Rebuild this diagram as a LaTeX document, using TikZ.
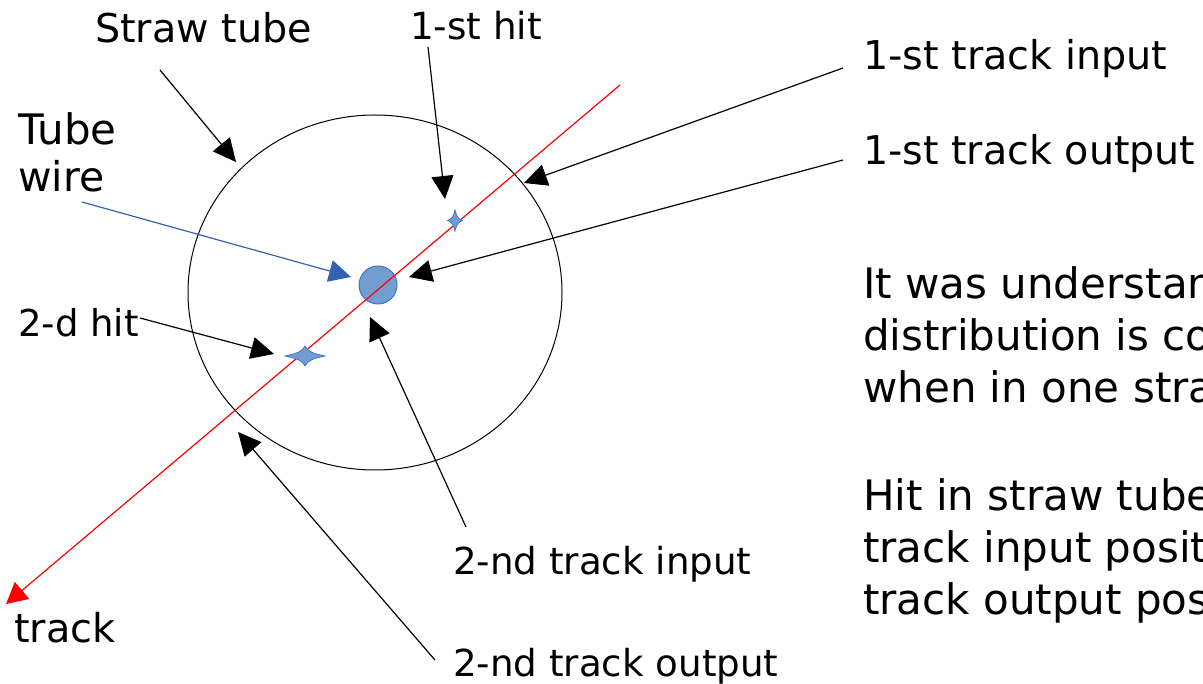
\documentclass[tikz,border=0pt]{standalone}
\usepackage{fontspec}
\setmainfont{DejaVu Sans}
\usetikzlibrary{arrows.meta}
\definecolor{wirefill}{RGB}{114,157,208}
\definecolor{wireedge}{RGB}{68,114,196}
\definecolor{bluearrow}{RGB}{52,98,178}
\tikzset{
  lbl/.style={anchor=base west,inner sep=0pt,align=left},
  bigtxt/.style={anchor=base west,inner sep=0pt,font=\fontsize{42}{52}\selectfont,align=left},
  ptr/.style={draw=black,line width=1.2pt,-{Triangle[length=23pt,width=22pt]}},
  blueptr/.style={line width=1.2pt,-{Triangle[length=22pt,width=22pt]},color=bluearrow},
  trackline/.style={draw=red,line width=1.2pt,-{Triangle[length=21pt,width=22pt]}},
  hitstar/.style={fill=wirefill,draw=wireedge,line width=0.8pt}
}
\begin{document}
\begin{tikzpicture}[x=1pt,y=-1pt]
\useasboundingbox (0,0) rectangle (1203,684);
\begin{scope}
\clip (0,0) rectangle (1203,684);
% straw tube
\draw[black,line width=1pt] (375,292.5) ellipse [x radius=187,y radius=177.5];
% wire
\node[circle,minimum size=38pt,inner sep=0pt,fill=wirefill,draw=wireedge,line width=1pt] (wire) at (378,285) {};
% track
\coordinate (trackstart) at (620,85);
\coordinate (trackend) at (6,604);
\draw[trackline] (trackstart) -- (trackend);
% hits
\coordinate (hitA) at (455,220.5);
\coordinate (hitB) at (305,356);
\begin{scope}[shift={(hitA)}]
\path[hitstar] (0,-10.5) .. controls (1.6,-3.5) and (3.5,-1.6) .. (7.5,0)
  .. controls (3.5,1.6) and (1.6,3.5) .. (0,10.5)
  .. controls (-1.6,3.5) and (-3.5,1.6) .. (-7.5,0)
  .. controls (-3.5,-1.6) and (-1.6,-3.5) .. cycle;
\end{scope}
\begin{scope}[shift={(hitB)}]
\path[hitstar] (0,-10) .. controls (2.5,-4.5) and (8,-2.5) .. (20,0)
  .. controls (8,2.5) and (2.5,4.5) .. (0,10)
  .. controls (-2.5,4.5) and (-8,2.5) .. (-20,0)
  .. controls (-8,-2.5) and (-2.5,-4.5) .. cycle;
\end{scope}
% labels
\node[lbl,font=\fontsize{39.7}{47}\selectfont] (lstraw) at (95,43) {Straw tube};
\node[lbl,font=\fontsize{37.3}{45}\selectfont] (lhit1) at (410,40) {1-st hit};
\node[lbl,font=\fontsize{42}{47}\selectfont] (lwire1) at (18,145) {Tube};
\node[lbl,font=\fontsize{41}{47}\selectfont] (lwire2) at (18,192) {wire};
\node[lbl,font=\fontsize{37}{45}\selectfont] (lhit2) at (18,337) {2-d hit};
\node[lbl,font=\fontsize{39.8}{47}\selectfont] (ltrack) at (14,642) {track};
\node[lbl,font=\fontsize{39.7}{47}\selectfont] (lin1) at (863,70) {1-st track input};
\node[lbl,font=\fontsize{39.6}{47}\selectfont] (lout1) at (863,165) {1-st track output};
\node[lbl,font=\fontsize{37.2}{45}\selectfont] (lin2) at (453,574) {2-nd track input};
\node[lbl,font=\fontsize{37.2}{45}\selectfont] (lout2) at (453,676) {2-nd track output};
\node[bigtxt] (para1) at (863,403) {It was understand\\distribution is co\\when in one stra};
\node[bigtxt] (para2) at (863,614) {Hit in straw tube\\track input posit\\track output pos};
% pointer ends
\coordinate (sStraw) at (160,70);   \coordinate (tStraw) at (236,162);
\coordinate (sHit1) at (428,47);    \coordinate (tHit1) at (445,199);
\coordinate (sIn1) at (843,68);     \coordinate (tIn1) at (524,183);
\coordinate (sOut1) at (843,160);   \coordinate (tOut1) at (409,277);
\coordinate (sWire) at (82,202);    \coordinate (tWire) at (351,277);
\coordinate (sHit2) at (140,318);   \coordinate (tHit2) at (274,354);
\coordinate (sIn2) at (466,527);    \coordinate (tIn2) at (370,317);
\coordinate (sOut2) at (435,660);   \coordinate (tOut2) at (238,432);
\draw[ptr] (sStraw) -- (tStraw);
\draw[ptr] (sHit1) -- (tHit1);
\draw[ptr] (sIn1) -- (tIn1);
\draw[ptr] (sOut1) -- (tOut1);
\draw[blueptr] (sWire) -- (tWire);
\draw[ptr] (sHit2) -- (tHit2);
\draw[ptr] (sIn2) -- (tIn2);
\draw[ptr] (sOut2) -- (tOut2);
\end{scope}
\end{tikzpicture}
\end{document}
